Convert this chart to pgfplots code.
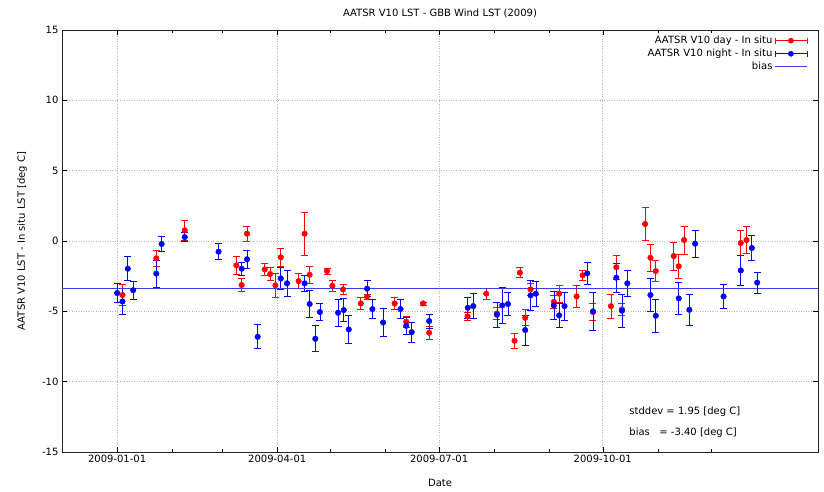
\documentclass[border=0pt]{standalone}
\usepackage{fontspec}
\setmainfont{DejaVu Sans}
\usepackage{pgfplots}
\usepackage{pgfplotstable}
\pgfplotsset{compat=1.18}
\definecolor{gpred}{RGB}{255,0,0}
\definecolor{gpblue}{RGB}{0,0,255}
\definecolor{biasblue}{RGB}{60,60,235}
\pgfplotstableread{
x y e
3 -3.84 0.77
22 -1.23 0.55
38 0.76 0.69
67 -1.73 0.65
70 -3.13 0.46
73 0.52 0.51
83 -2.02 0.45
86 -2.35 0.45
89 -3.15 0.85
92 -1.16 0.65
102 -2.85 0.55
105.4 0.52 1.54
108.2 -2.40 0.6
118 -2.14 0.23
121 -3.18 0.4
127 -3.44 0.36
137 -4.44 0.41
140.5 -3.96 0.2
156 -4.44 0.41
162.5 -5.74 0.38
172 -4.44 0.1
175.4 -6.52 0.44
197 -5.36 0.3
207.5 -3.75 0.38
213.5 -5.15 0.42
223.4 -7.09 0.54
226.4 -2.25 0.36
229.4 -5.46 0.57
232.4 -3.44 0.45
245.5 -4.32 0.45
248.5 -3.75 0.58
258.3 -3.94 0.78
261.7 -2.44 0.38
267.5 -5.05 0.6
277.6 -4.63 0.86
280.6 -1.87 0.83
283.8 -4.86 0.45
296.8 1.21 1.16
299.8 -1.19 0.96
302.8 -2.14 0.75
312.9 -1.07 1.0
315.7 -1.80 0.84
318.7 0.07 1.0
350.6 -0.14 0.9
353.8 0.07 0.96
}\dayT
\pgfplotstableread{
x y e
0 -3.70 0.69
3 -4.30 0.9
6 -1.97 0.85
9 -3.50 0.63
22 -2.32 0.95
25 -0.21 0.55
38 0.28 0.3
57 -0.76 0.57
70 -1.97 0.45
73 -1.30 0.64
79 -6.81 0.85
92 -2.66 0.77
95.5 -3.01 0.94
105.4 -3.01 0.57
108.2 -4.48 0.97
111.4 -6.95 0.92
114 -5.05 0.6
124.2 -5.10 0.95
127.4 -4.91 0.8
130.2 -6.29 1.0
140.5 -3.39 0.56
143.5 -4.84 0.68
149.5 -5.79 0.97
159.3 -4.84 0.68
162.5 -6.03 0.63
165.6 -6.48 0.7
175.4 -5.69 0.49
197.1 -4.75 0.75
200.2 -4.63 0.9
213.5 -5.24 0.9
216.5 -4.58 1.28
219.7 -4.48 0.83
229.4 -6.33 1.07
232.4 -3.87 1.04
235.4 -3.75 0.88
245.5 -4.58 0.97
248.5 -5.29 0.83
251.5 -4.63 1.0
264.3 -2.30 0.78
267.5 -5.00 1.33
280.6 -2.61 1.04
283.8 -4.96 1.2
286.8 -3.01 0.94
299.8 -3.84 1.15
302.8 -5.31 1.16
315.7 -4.08 1.14
321.7 -4.89 1.13
324.9 -0.19 0.95
340.9 -3.94 0.87
350.6 -2.09 1.07
356.8 -0.50 0.9
359.8 -2.96 0.75
}\nightT
\begin{document}
\fontsize{10pt}{12pt}\selectfont
\begin{tikzpicture}
\useasboundingbox (-62pt,-40pt) rectangle (762pt,452pt);
\begin{axis}[
  at={(0pt,0pt)}, anchor=south west,
  width=756pt, height=422pt, scale only axis,
  xmin=-31, xmax=394, ymin=-15, ymax=15,
  xtick={0,90,181,273},
  xticklabels={2009-01-01,2009-04-01,2009-07-01,2009-10-01},
  minor xtick={31,59,120,151,212,243,304,334},
  ytick={-15,-10,-5,0,5,10,15},
  grid=major,
  major grid style={dotted, black!28, line width=0.7pt},
  tick align=inside,
  major tick length=5pt, minor tick length=3pt,
  every tick/.style={black, line width=0.5pt},
  axis line style={black!85, line width=0.6pt},
  /pgf/number format/assume math mode=true,
  tick label style={font=\fontsize{10pt}{12pt}\selectfont},
  title={AATSR V10 LST - GBB Wind LST (2009)},
  title style={at={(axis description cs:0.5,1.026)}, anchor=center, font=\fontsize{10pt}{12pt}\selectfont},
  xlabel={Date},
  xlabel style={at={(axis description cs:0.5,-0.0735)}, anchor=center},
  ylabel={AATSR V10 LST - In situ LST [deg C]},
  ylabel style={at={(axis description cs:-0.0529,0.5)}, anchor=center, rotate=0},
  legend style={at={(axis description cs:0.9875,0.993)}, anchor=north east,
    draw=none, fill=none, font=\fontsize{10pt}{12pt}\selectfont,
    row sep=0pt, inner sep=1pt},
  legend cell align=right,
  legend plot pos=right,
]
\addplot[only marks, color=gpred, mark=*, mark size=2.8pt,
  legend image code/.code={
    \draw[draw=gpred, line width=0.8pt] (0pt,0pt)--(32pt,0pt);
    \draw[draw=gpred, line width=0.8pt] (0pt,-3pt)--(0pt,3pt);
    \draw[draw=gpred, line width=0.8pt] (32pt,-3pt)--(32pt,3pt);
    \fill[fill=gpred] (16pt,0pt) circle (2.6pt);},
  error bars/.cd, y dir=both, y explicit,
  error bar style={draw=gpred, line width=0.7pt},
  error mark options={rotate=90, mark size=3.5pt, draw=gpred, line width=0.7pt}]
  table[x=x, y=y, y error=e] {\dayT};
\addlegendentry{AATSR V10 day - In situ}
\addplot[only marks, color=gpblue, mark=*, mark size=2.8pt,
  legend image code/.code={
    \draw[draw=gpblue, line width=0.8pt] (0pt,0pt)--(32pt,0pt);
    \draw[draw=gpblue, line width=0.8pt] (0pt,-3pt)--(0pt,3pt);
    \draw[draw=gpblue, line width=0.8pt] (32pt,-3pt)--(32pt,3pt);
    \fill[fill=gpblue] (16pt,0pt) circle (2.6pt);},
  error bars/.cd, y dir=both, y explicit,
  error bar style={draw=gpblue, line width=0.7pt},
  error mark options={rotate=90, mark size=3.5pt, draw=gpblue, line width=0.7pt}]
  table[x=x, y=y, y error=e] {\nightT};
\addlegendentry{AATSR V10 night - In situ}
\addplot[draw=biasblue, no marks, line width=0.9pt,
  legend image code/.code={\draw[draw=biasblue, line width=0.9pt] (0pt,0pt)--(32pt,0pt);}]
  coordinates {(-31,-3.40) (394,-3.40)};
\addlegendentry{bias}
\node[anchor=west] at (axis cs:286,-12.17) {stddev = 1.95 [deg C]};
\node[anchor=west] at (axis cs:286,-13.66) {bias\ \ \ = -3.40 [deg C]};
\end{axis}
\end{tikzpicture}
\end{document}
